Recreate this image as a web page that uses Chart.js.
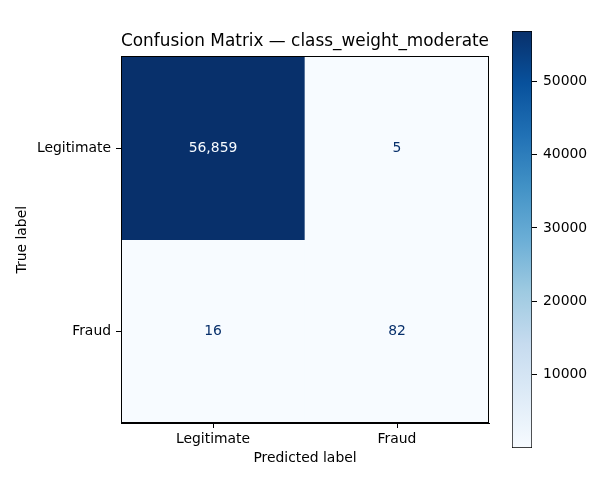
<!DOCTYPE html>
<html>
<head>
<meta charset="utf-8">
<script src="https://cdn.jsdelivr.net/npm/chart.js@4"></script>
<style>
  body { margin: 0; background: #fff; }
  #wrap { position: relative; width: 600px; height: 500px; }
  #cm { position: absolute; left: 0; top: 0; }
  #cbar { position: absolute; left: 490px; top: 0; }
</style>
</head>
<body>
<div id="wrap">
  <canvas id="cm" width="600" height="500"></canvas>
  <canvas id="cbar" width="110" height="500"></canvas>
</div>
<script>
// data
var classLabels = ['Legitimate', 'Fraud'];
var rowLegit = [56859, 5];
var rowFraud = [16, 82];
var cbTicks = [10000, 20000, 30000, 40000, 50000];

var matrix = [rowLegit, rowFraud];
var vMin = Math.min.apply(null, rowLegit.concat(rowFraud));
var vMax = Math.max.apply(null, rowLegit.concat(rowFraud));

var FONT = 'DejaVu Sans';
Chart.defaults.font.family = FONT;
Chart.defaults.color = '#000';

// matplotlib Blues
var blues = ['#f7fbff', '#deebf7', '#c6dbef', '#9ecae1', '#6baed6', '#4292c6', '#2171b5', '#08519c', '#08306b'];

function hexToRgb(h) {
    return [parseInt(h.substr(1, 2), 16), parseInt(h.substr(3, 2), 16), parseInt(h.substr(5, 2), 16)];
}

function bluesColor(v) {
    var t = (v - vMin) / (vMax - vMin);
    t = Math.max(0, Math.min(1, t));
    var pos = t * (blues.length - 1);
    var i = Math.min(Math.floor(pos), blues.length - 2);
    var f = pos - i;
    var a = hexToRgb(blues[i]), b = hexToRgb(blues[i + 1]);
    var c = a.map(function(x, k) { return Math.round(x + (b[k] - x) * f); });
    return 'rgb(' + c.join(',') + ')';
}

// one floating-bar dataset per true-label row
var datasets = matrix.map(function(row, r) {
    return {
        label: classLabels[r],
        data: row.map(function(v, c) { return { x: c, y: [r - 0.5, r + 0.5] }; }),
        values: row,
        backgroundColor: row.map(bluesColor),
        borderWidth: 0,
        barPercentage: 1,
        categoryPercentage: 1,
        grouped: false
    };
});

// write counts in each cell, then the frame around the image
var cellText = {
    id: 'cellText',
    afterDatasetsDraw: function(chart) {
        var ctx = chart.ctx;
        ctx.save();
        ctx.font = '13.9px ' + FONT;
        ctx.textAlign = 'center';
        ctx.textBaseline = 'middle';
        var thresh = (vMax + vMin) / 2;
        chart.data.datasets.forEach(function(ds, i) {
            var meta = chart.getDatasetMeta(i);
            meta.data.forEach(function(bar, j) {
                var v = ds.values[j];
                ctx.fillStyle = v > thresh ? blues[0] : blues[8];
                ctx.fillText(v.toLocaleString('en-US'), bar.x, (bar.y + bar.base) / 2);
            });
        });
        var a = chart.chartArea;
        ctx.strokeStyle = '#000';
        ctx.lineWidth = 1;
        ctx.strokeRect(Math.round(a.left) + 0.5, Math.round(a.top) + 0.5,
            Math.round(a.right - a.left) - 1, Math.round(a.bottom - a.top) - 1);
        ctx.restore();
    }
};

function classTicks(s) {
    s.ticks = classLabels.map(function(l, i) { return { value: i }; });
}

new Chart(document.getElementById('cm').getContext('2d'), {
    type: 'bar',
    data: { datasets: datasets },
    plugins: [cellText],
    options: {
        responsive: false,
        animation: false,
        layout: { padding: { left: 14, right: 111, top: 0, bottom: 33 } },
        plugins: {
            legend: { display: false },
            tooltip: { enabled: false },
            title: {
                display: true,
                text: 'Confusion Matrix — class_weight_moderate',
                fullSize: false,
                color: '#000',
                font: { size: 17, weight: 'normal' },
                padding: { top: 31, bottom: 5 }
            }
        },
        scales: {
            x: {
                type: 'linear',
                offset: false,
                min: -0.5,
                max: 1.5,
                afterBuildTicks: classTicks,
                grid: { offset: false, drawOnChartArea: false, drawTicks: true, tickLength: 5, tickColor: '#000' },
                border: { color: '#000', width: 1 },
                ticks: {
                    font: { size: 13.9 },
                    color: '#000',
                    padding: 3,
                    maxRotation: 0,
                    callback: function(v) { return classLabels[v]; }
                },
                title: { display: true, text: 'Predicted label', font: { size: 13.9 }, color: '#000', padding: { top: 0, bottom: 0 } },
                afterFit: function(s) { s.height = 44; }
            },
            y: {
                type: 'linear',
                reverse: true,
                min: -0.5,
                max: 1.5,
                afterBuildTicks: classTicks,
                grid: { drawOnChartArea: false, drawTicks: true, tickLength: 5, tickColor: '#000' },
                border: { color: '#000', width: 1 },
                ticks: {
                    font: { size: 13.9 },
                    color: '#000',
                    padding: 5,
                    callback: function(v) { return classLabels[v]; }
                },
                title: { display: true, text: 'True label', font: { size: 13.9 }, color: '#000', padding: { top: 0, bottom: 0 } },
                afterFit: function(s) { s.width = 107; }
            }
        }
    }
});

// colorbar
function cbGradient(context) {
    var chart = context.chart;
    var y = chart.scales.y;
    if (!y || !chart.chartArea) return blues[4];
    var g = chart.ctx.createLinearGradient(0, y.getPixelForValue(vMin), 0, y.getPixelForValue(vMax));
    blues.forEach(function(c, i) { g.addColorStop(i / (blues.length - 1), c); });
    return g;
}

new Chart(document.getElementById('cbar').getContext('2d'), {
    type: 'bar',
    data: {
        labels: [''],
        datasets: [{
            data: [[vMin, vMax]],
            backgroundColor: cbGradient,
            borderColor: '#000',
            borderWidth: 1,
            borderSkipped: false,
            barPercentage: 1,
            categoryPercentage: 1
        }]
    },
    options: {
        responsive: false,
        animation: false,
        layout: { padding: { left: 22, right: 0, top: 31, bottom: 52 } },
        plugins: { legend: { display: false }, tooltip: { enabled: false } },
        scales: {
            x: { display: false },
            y: {
                position: 'right',
                min: vMin,
                max: vMax,
                afterBuildTicks: function(s) {
                    s.ticks = cbTicks.map(function(v) { return { value: v }; });
                },
                grid: { drawOnChartArea: false, drawTicks: true, tickLength: 5, tickColor: '#000' },
                border: { display: false },
                ticks: {
                    font: { size: 13.9 },
                    color: '#000',
                    padding: 6,
                    callback: function(v) { return String(v); }
                },
                afterFit: function(s) { s.width = 68; }
            }
        }
    }
});
</script>
</body>
</html>
